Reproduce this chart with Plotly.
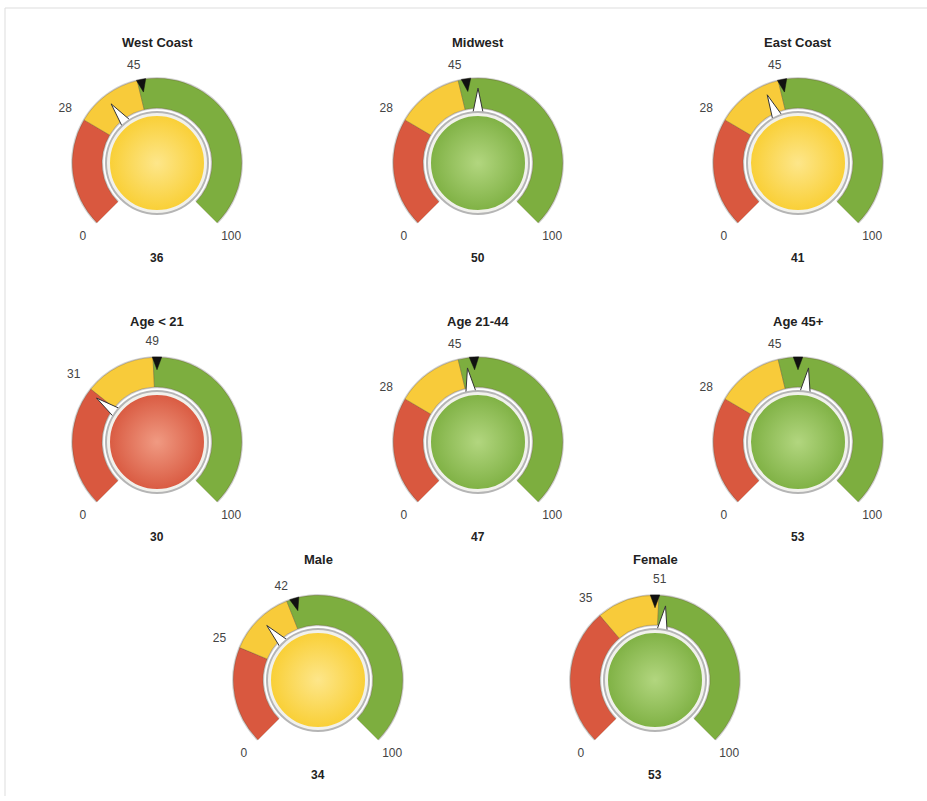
import plotly.graph_objects as go

# ---- data ----
names = ["West Coast", "Midwest", "East Coast", "Age < 21", "Age 21-44", "Age 45+", "Male", "Female"]
values = [36, 50, 41, 30, 47, 53, 34, 53]
low_thresholds = [28, 28, 28, 31, 28, 28, 25, 35]
high_thresholds = [45, 45, 45, 49, 45, 45, 42, 51]
targets = [46, 47, 46, 50, 49, 50, 44, 50]
scale_min = 0
scale_max = 100

# ---- layout / style ----
W, H = 927, 801
R = 86  # outer band radius px
RMAX = 1.3  # radial range max (band outer edge at 1.0)
RD = R * RMAX
centers = [(157, 163), (478, 163), (798, 163),
           (157, 442), (478, 442), (798, 442),
           (318, 680), (655, 680)]
SPAN = 270.0
RED, YELLOW, GREEN = "#d9583f", "#f8cb3a", "#7dae3f"
BALL = {"red": ("#d95a41", "#f09a82"), "yellow": ("#f9cf35", "#fde68a"), "green": ("#7fb144", "#b2d67f")}
FONT = "Liberation Sans, Arial, sans-serif"

def deg(v):
    return (v - scale_min) / (scale_max - scale_min) * SPAN

fig = go.Figure()
annotations = []

for i, name in enumerate(names):
    pid = "polar" if i == 0 else f"polar{i+1}"
    v, lo, hi, tg = values[i], low_thresholds[i], high_thresholds[i], targets[i]
    cx, cy = centers[i]

    # bands
    edges = [scale_min, lo, hi, scale_max]
    cols = [RED, YELLOW, GREEN]
    th = [(deg(edges[k]) + deg(edges[k + 1])) / 2 for k in range(3)]
    wd = [deg(edges[k + 1]) - deg(edges[k]) for k in range(3)]
    fig.add_trace(go.Barpolar(
        r=[0.375], theta=[SPAN / 2], width=[SPAN], base=[0.625],
        marker=dict(color="#d4d4d4", line=dict(width=0)),
        subplot=pid, showlegend=False, hoverinfo="skip"))
    fig.add_trace(go.Barpolar(
        r=[0.345] * 3, theta=th, width=wd, base=[0.64] * 3,
        marker=dict(color=cols, line=dict(color="rgba(90,70,40,0.35)", width=0.8)),
        subplot=pid, showlegend=False, hoverinfo="skip"))

    # target (black triangle, pointing inward)
    t = deg(tg)
    fig.add_trace(go.Scatterpolar(
        r=[0.99, 0.99, 0.84, 0.99], theta=[t - 3.2, t + 3.2, t, t - 3.2],
        mode="lines", fill="toself", fillcolor="#111111",
        line=dict(color="#111111", width=0.5),
        subplot=pid, showlegend=False, hoverinfo="skip"))

    # value pointer (white triangle, pointing outward)
    p = deg(v)
    fig.add_trace(go.Scatterpolar(
        r=[0.55, 0.55, 0.87, 0.55], theta=[p - 7, p + 7, p, p - 7],
        mode="lines", fill="toself", fillcolor="#ffffff",
        line=dict(color="#333333", width=1),
        subplot=pid, showlegend=False, hoverinfo="skip"))

    # central ball
    state = "red" if v < lo else ("yellow" if v < hi else "green")
    edge_c, center_c = BALL[state]
    fig.add_trace(go.Scatterpolar(
        r=[0], theta=[0], mode="markers", cliponaxis=False,
        marker=dict(size=104, color="#b5b5b5", line=dict(width=0)),
        subplot=pid, showlegend=False, hoverinfo="skip"))
    fig.add_trace(go.Scatterpolar(
        r=[0], theta=[0], mode="markers", cliponaxis=False,
        marker=dict(size=97, color=edge_c, line=dict(width=3, color="#f1f1ec"),
                    gradient=dict(type="radial", color=center_c)),
        subplot=pid, showlegend=False, hoverinfo="skip"))

    # scale labels (min, thresholds, max)
    tick_vals = [scale_min, lo, hi, scale_max]
    fig.add_trace(go.Scatterpolar(
        r=[1.22, 1.24, 1.16, 1.22], theta=[deg(x) for x in tick_vals],
        mode="text", text=[str(x) for x in tick_vals], cliponaxis=False,
        textposition="middle center",
        textfont=dict(family=FONT, size=12, color="#444444"),
        subplot=pid, showlegend=False, hoverinfo="skip"))

    xd = [(cx - RD) / W, (cx + RD) / W]
    yd = [1 - (cy + 0.7071 * RD) / H, 1 - (cy - RD) / H]
    fig.update_layout(**{pid: dict(
        domain=dict(x=xd, y=yd),
        sector=[-45, 225],
        hole=0,
        bgcolor="rgba(0,0,0,0)",
        radialaxis=dict(visible=False, range=[0, RMAX]),
        angularaxis=dict(
            type="linear", rotation=225, direction="clockwise", thetaunit="degrees",
            showticklabels=False, showgrid=False, showline=False, ticks=""),
    )})

    annotations.append(dict(x=cx / W, y=1 - (cy - 121) / H, xref="paper", yref="paper",
                            xanchor="center", yanchor="middle",
                            text=f"<b>{name}</b>", showarrow=False,
                            font=dict(family=FONT, size=13, color="#222222")))
    annotations.append(dict(x=cx / W, y=1 - (cy + 95) / H, xref="paper", yref="paper",
                            xanchor="center", yanchor="middle",
                            text=f"<b>{v}</b>", showarrow=False,
                            font=dict(family=FONT, size=12, color="#222222")))

fig.update_layout(
    width=W, height=H,
    margin=dict(l=0, r=0, t=0, b=0),
    paper_bgcolor="white",
    plot_bgcolor="white",
    annotations=annotations,
    shapes=[
        dict(type="line", xref="paper", yref="paper", x0=5 / W, x1=1, y0=1 - 8 / H, y1=1 - 8 / H,
             line=dict(color="#dddddd", width=1)),
        dict(type="line", xref="paper", yref="paper", x0=5 / W, x1=5 / W, y0=1 - 8 / H, y1=1 - 796 / H,
             line=dict(color="#dddddd", width=1)),
    ],
)

fig.write_html("out.html")
